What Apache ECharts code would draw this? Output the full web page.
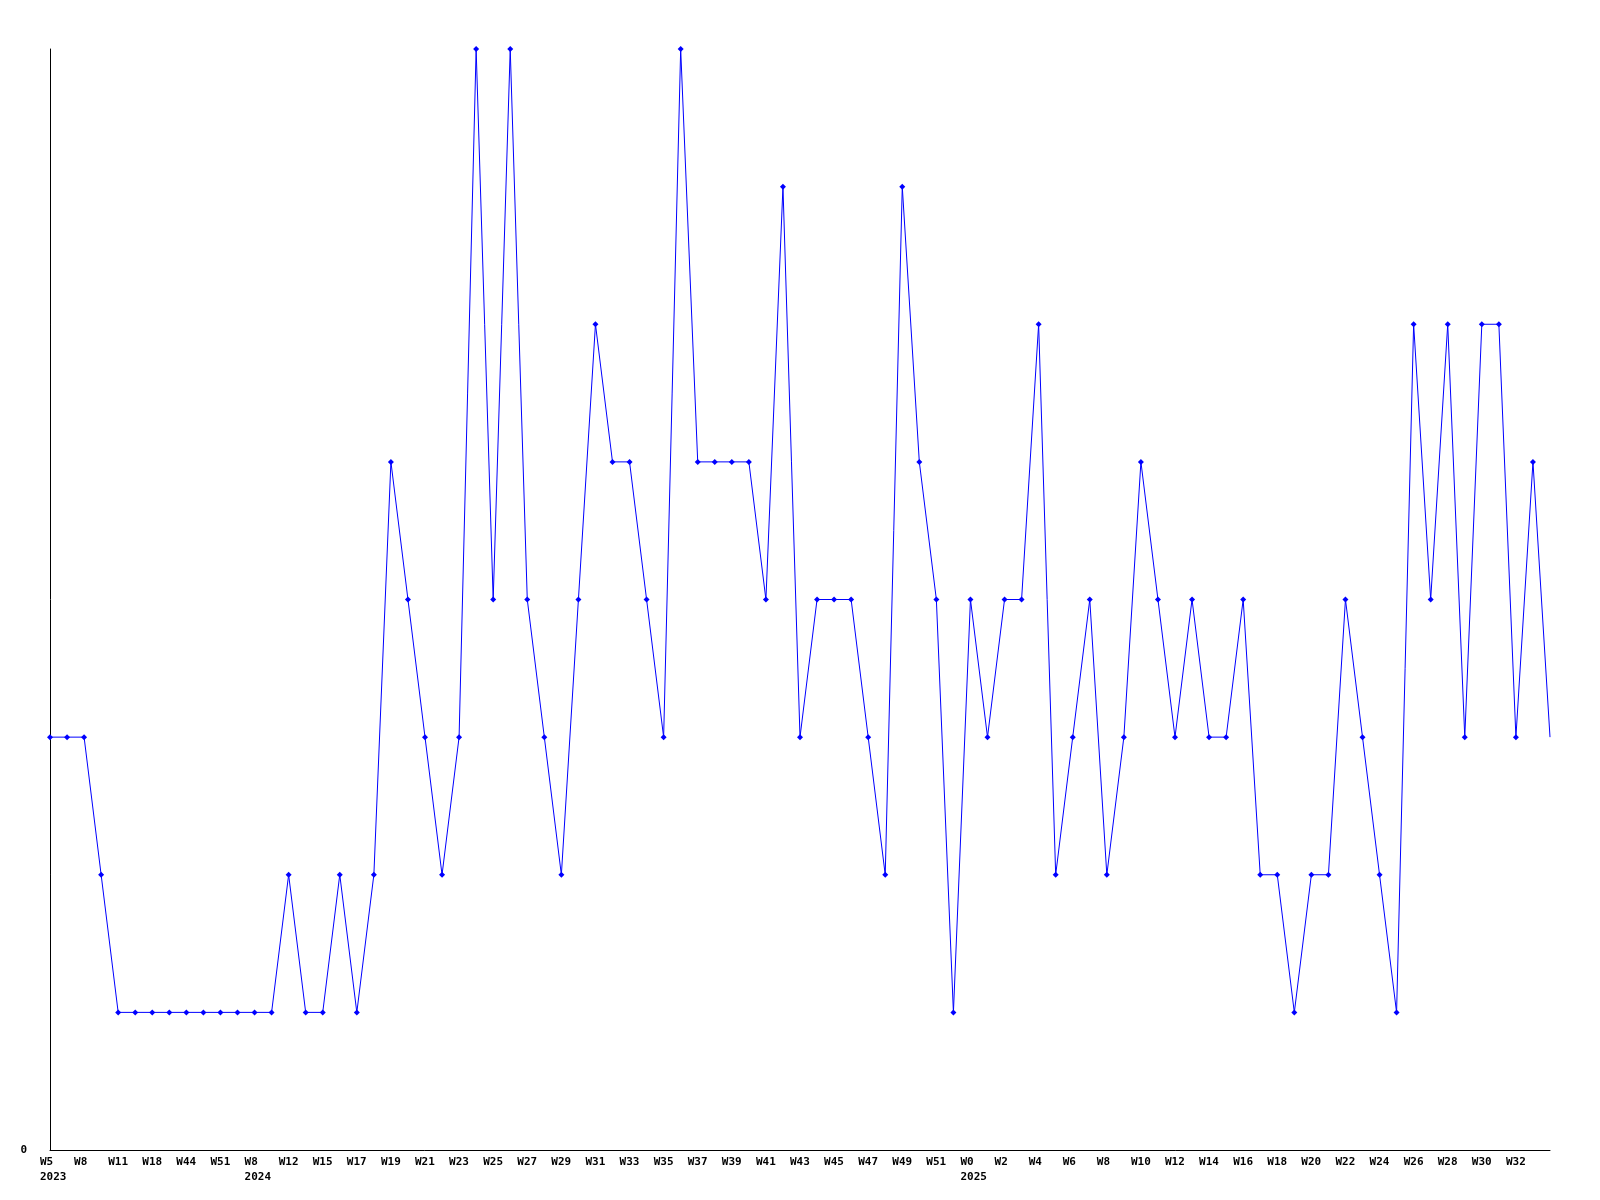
<!DOCTYPE html>
<html>
<head>
<meta charset="utf-8">
<script src="https://cdn.jsdelivr.net/npm/echarts@6/dist/echarts.min.js"></script>
<style>
html,body{margin:0;padding:0;background:#fff;}
#chart{width:1600px;height:1200px;}
</style>
</head>
<body>
<div id="chart"></div>
<script>
// Categories: year-week
const years = [
  2023,2023,2023,2023,2023,2023,2023,2023,2023,2023,2023,2023,
  2024,2024,2024,2024,2024,2024,2024,2024,2024,2024,2024,2024,2024,2024,2024,2024,2024,2024,
  2024,2024,2024,2024,2024,2024,2024,2024,2024,2024,2024,2024,2024,2024,2024,2024,2024,2024,
  2024,2024,2024,2024,2024,2024,
  2025,2025,2025,2025,2025,2025,2025,2025,2025,2025,2025,2025,2025,2025,2025,2025,2025,2025,
  2025,2025,2025,2025,2025,2025,2025,2025,2025,2025,2025,2025,2025,2025,2025,2025,2025,2025,2025
];
const weeks = [
  'W5','W6','W8','W9','W11','W14','W18','W30','W44','W47','W51','W52',
  'W8','W10','W12','W13','W15','W16','W17','W18','W19','W20','W21','W22','W23','W24','W25','W26','W27','W28',
  'W29','W30','W31','W32','W33','W34','W35','W36','W37','W38','W39','W40','W41','W42','W43','W44','W45','W46',
  'W47','W48','W49','W50','W51','W52',
  'W0','W1','W2','W3','W4','W5','W6','W7','W8','W9','W10','W11','W12','W13','W14','W15','W16','W17',
  'W18','W19','W20','W21','W22','W23','W24','W25','W26','W27','W28','W29','W30','W31','W32','W33','W34'
];
const values = [
  3,3,3,2,1,1,1,1,1,1,1,1,1,1,2,1,1,2,1,2,
  5,4,3,2,3,8,4,8,4,3,2,4,6,5,5,4,3,8,5,5,
  5,5,4,7,3,4,4,4,3,2,7,5,4,1,4,3,4,4,6,2,
  3,4,2,3,5,4,3,4,3,3,4,2,2,1,2,2,4,3,2,1,
  6,4,6,3,6,6,3,5,3
];
const yTickLabels = ['0'];

const categories = weeks.map((w, i) => years[i] + '-' + w);

const chart = echarts.init(document.getElementById('chart'), null, {renderer: 'canvas'});
const font = 'DejaVu Sans Mono';
chart.setOption({
  animation: false,
  backgroundColor: '#ffffff',
  grid: {left: 50, right: 50, top: 49, bottom: 50, containLabel: false},
  xAxis: {
    type: 'category',
    data: categories,
    boundaryGap: false,
    axisLine: {show: true, lineStyle: {color: '#000', width: 1}},
    axisTick: {show: false},
    splitLine: {show: false},
    axisLabel: {
      interval: 1,
      showMaxLabel: false,
      align: 'left',
      padding: [0, 0, 0, -10],
      margin: 5,
      color: '#000',
      fontFamily: font,
      fontWeight: 'bold',
      fontSize: 11,
      lineHeight: 15,
      formatter: function (val, idx) {
        if (idx === weeks.length - 1) return '';
        const w = weeks[idx];
        if (idx === 0 || years[idx] !== years[idx - 1]) {
          return w + '\n' + years[idx];
        }
        return w;
      }
    }
  },
  yAxis: {
    type: 'value',
    min: 0,
    max: 8,
    interval: 1,
    axisLine: {show: true, lineStyle: {color: '#000', width: 1}},
    axisTick: {show: false},
    splitLine: {show: false},
    axisLabel: {
      margin: 23,
      color: '#000',
      fontFamily: font,
      fontWeight: 'bold',
      fontSize: 11,
      formatter: function (v) { return v === 0 ? yTickLabels[0] : ''; }
    }
  },
  series: [{
    type: 'line',
    data: values.map((v, i) => i === values.length - 1 ? {value: v, symbol: 'none'} : v),
    symbol: 'diamond',
    symbolSize: 6,
    showAllSymbol: true,
    lineStyle: {color: '#0000ff', width: 1},
    itemStyle: {color: '#0000ff'},
    clip: false
  }]
});
</script>
</body>
</html>
